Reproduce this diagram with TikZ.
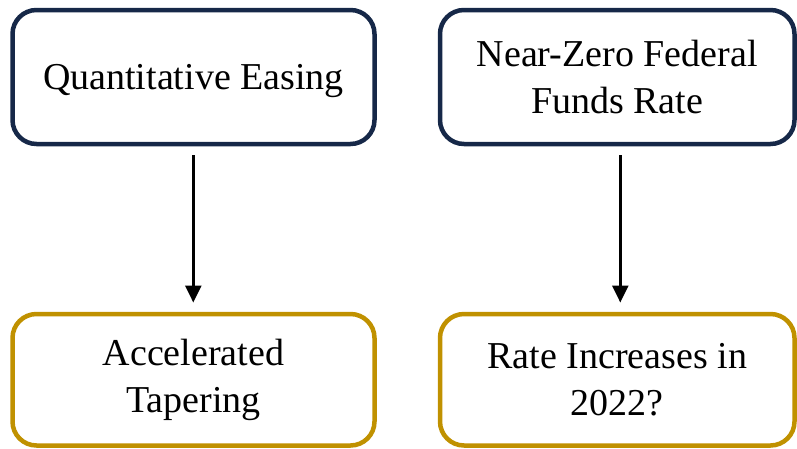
\documentclass[tikz,border=0pt]{standalone}
\usepackage{fontspec}
\setmainfont{Liberation Serif}
\usetikzlibrary{arrows.meta}
\definecolor{navy}{RGB}{22,40,72}
\definecolor{gold}{RGB}{192,145,0}
\tikzset{
  box/.style={draw, line width=4.5pt, rounded corners=24pt, align=center,
    font=\fontsize{38}{47}\selectfont, text=black, inner sep=0pt},
  topbox/.style={box, draw=navy},
  botbox/.style={box, draw=gold},
  conn/.style={line width=2.4pt, -{Triangle[length=17pt,width=16pt]}}
}
\begin{document}
\begin{tikzpicture}[x=1pt,y=1pt]
\useasboundingbox (0,0) rectangle (797,-448);
\node[topbox, minimum width=362pt, minimum height=134pt] (qe) at (193.5,-77) {\raisebox{-4pt}[\height][\depth]{Quantitative Easing}};
\node[topbox, minimum width=354.5pt, minimum height=134pt] (zr) at (617.25,-77) {Near-Zero Federal\\Funds Rate};
\node[botbox, minimum width=362pt, minimum height=131.5pt] (at) at (193.5,-379.75) {Accelerated\\Tapering};
\node[botbox, minimum width=354.5pt, minimum height=131.5pt] (ri) at (617.25,-379.75) {Rate Increases in\\2022?};
\coordinate (a1) at (193.3,-155);
\coordinate (a2) at (193.3,-302.5);
\coordinate (b1) at (620.3,-155);
\coordinate (b2) at (620.3,-302.5);
\draw[conn] (a1) -- (a2);
\draw[conn] (b1) -- (b2);
\end{tikzpicture}
\end{document}
